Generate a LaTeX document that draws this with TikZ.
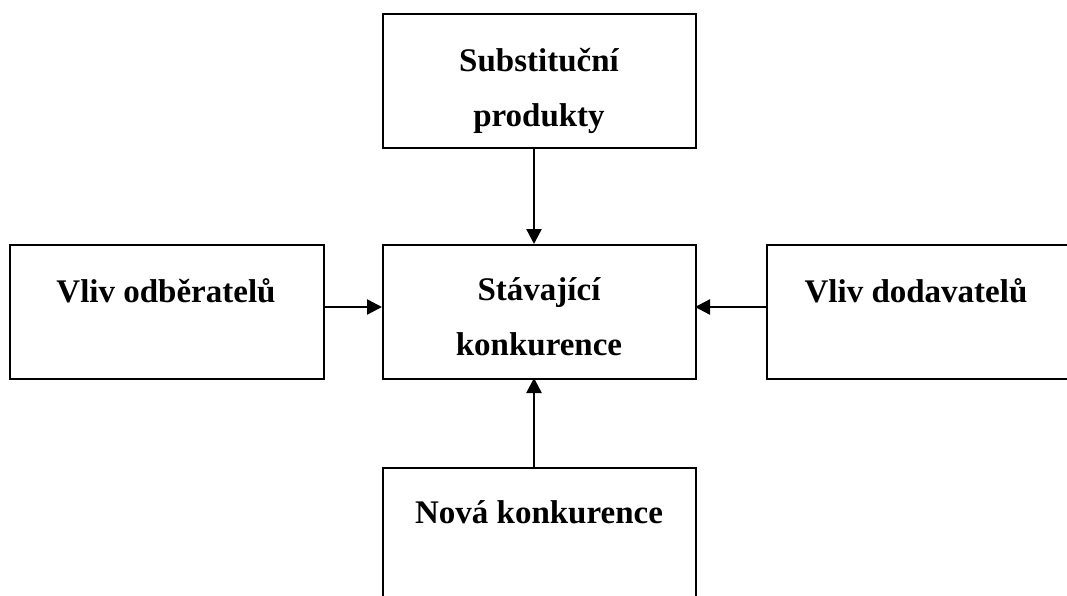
\documentclass[tikz,border=0pt]{standalone}
\usepackage{fontspec}
\setmainfont{Liberation Serif}
\usetikzlibrary{arrows.meta}
\tikzset{
  box/.style={draw=black, line width=2.4pt, rectangle, inner sep=0pt, fill=white},
  lbl/.style={font=\fontsize{33}{40}\selectfont\bfseries, anchor=base, inner sep=0pt},
  conn/.style={line width=2.4pt, -{Triangle[length=15pt,width=15pt]}}
}
\begin{document}
\begin{tikzpicture}[x=1pt,y=-1pt]
\useasboundingbox (0,0) rectangle (1067,596);
\clip (0,0) rectangle (1067,596);
\fill[white] (0,0) rectangle (1067,596);
% boxes
\node[box, minimum width=313pt, minimum height=134pt, anchor=north west] (top) at (382,13) {};
\node[box, minimum width=313pt, minimum height=134pt, anchor=north west] (mid) at (382,244) {};
\node[box, minimum width=314pt, minimum height=134pt, anchor=north west] (left) at (9,244) {};
\node[box, minimum width=330pt, minimum height=134pt, anchor=north west] (right) at (766,244) {};
\node[box, minimum width=313pt, minimum height=150pt, anchor=north west] (bot) at (382,467) {};
% texts
\node[lbl] (ttop1) at (539,72) {Substituční};
\node[lbl] (ttop2) at (539,127) {produkty};
\node[lbl] (tmid1) at (539,300) {Stávající};
\node[lbl] (tmid2) at (539,355) {konkurence};
\node[lbl] (tleft) at (166,302) {Vliv odběratelů};
\node[lbl] (tright) at (916,302) {Vliv dodavatelů};
\node[lbl] (tbot) at (539,523) {Nová konkurence};
% connectors
\coordinate (a1) at (534,147);
\coordinate (a2) at (534,244);
\draw[conn] (a1) -- (a2);
\coordinate (b1) at (534,467);
\coordinate (b2) at (534,378);
\draw[conn] (b1) -- (b2);
\coordinate (c1) at (323,307);
\coordinate (c2) at (382,307);
\draw[conn] (c1) -- (c2);
\coordinate (d1) at (766,307);
\coordinate (d2) at (695,307);
\draw[conn] (d1) -- (d2);
\end{tikzpicture}
\end{document}
